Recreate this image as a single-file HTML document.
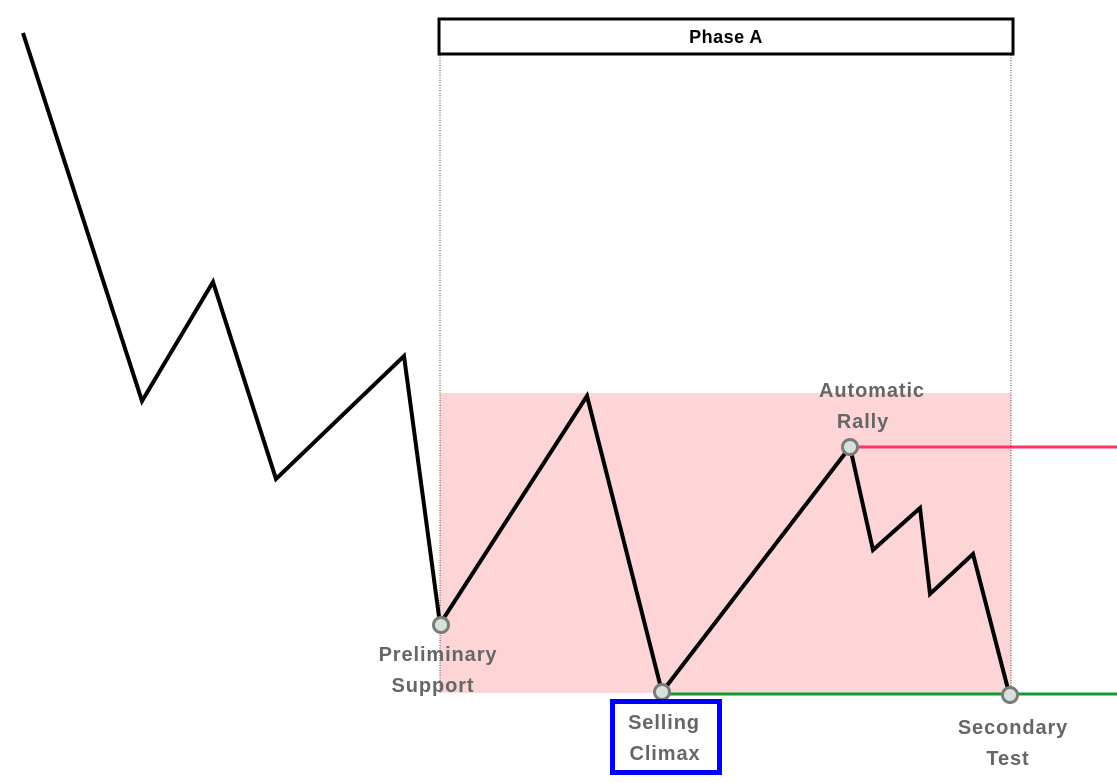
<!DOCTYPE html>
<html><head><meta charset="utf-8"><style>
html,body{margin:0;padding:0;background:#fff;}
svg{display:block;}
text{font-family:"Liberation Sans",sans-serif;font-weight:bold;}
</style></head><body>
<svg width="1117" height="783" viewBox="0 0 1117 783" xmlns="http://www.w3.org/2000/svg">
<rect x="440" y="393" width="571" height="300" fill="#fdd5d7"/>
<line x1="440" y1="55" x2="440" y2="693" stroke="#444" stroke-width="1" stroke-dasharray="1,1.5"/>
<line x1="1011" y1="55" x2="1011" y2="693" stroke="#444" stroke-width="1" stroke-dasharray="1,1.5"/>
<rect x="439" y="19" width="574" height="35" fill="#fff" stroke="#000" stroke-width="3"/>
<text x="726" y="43" font-size="18" text-anchor="middle" fill="#000" letter-spacing="0.5">Phase A</text>
<line x1="850" y1="447" x2="1117" y2="447" stroke="#ff3366" stroke-width="3"/>
<line x1="662" y1="694" x2="1117" y2="694" stroke="#119933" stroke-width="3"/>
<polyline points="23,33 142,401 213,282 276,479 404,356 440,624 587,396 662,692 850,447 873,550 920,508 930,594 973,554 1009,693" fill="none" stroke="#000" stroke-width="4" stroke-linejoin="miter"/>
<g fill="#d8e0dc" stroke="#7a7a7a" stroke-width="3">
<circle cx="441" cy="625" r="7.5"/>
<circle cx="662" cy="692" r="7.5"/>
<circle cx="850" cy="447" r="7.5"/>
<circle cx="1010" cy="695" r="7.5"/>
</g>
<g font-size="20" fill="#666" text-anchor="middle" letter-spacing="0.9">
<text x="438" y="661">Preliminary</text>
<text x="433" y="692">Support</text>
<text x="872" y="397">Automatic</text>
<text x="863" y="428">Rally</text>
<text x="1013" y="734">Secondary</text>
<text x="1008" y="765">Test</text>
<text x="664" y="729">Selling</text>
<text x="665" y="760">Climax</text>
</g>
<rect x="612.5" y="701.5" width="107" height="71" fill="none" stroke="#0000ff" stroke-width="5"/>
</svg>
</body></html>
